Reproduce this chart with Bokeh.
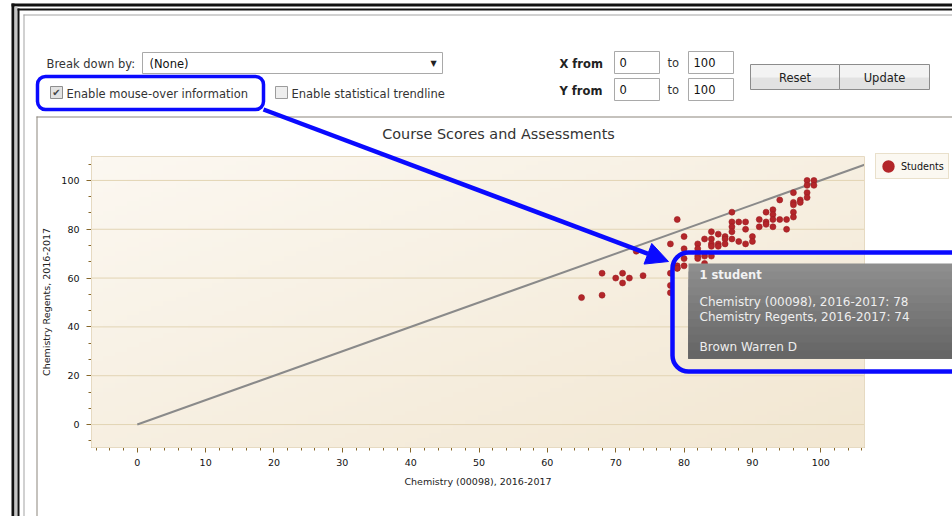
import numpy as np
from bokeh.plotting import figure
from bokeh.models import (Range1d, Label, BoxAnnotation, Arrow, NormalHead,
                          Legend, LegendItem, SingleIntervalTicker, LinearAxis)
from bokeh.embed import file_html
from bokeh.resources import INLINE

# ---------------- data ----------------
chart_title = "Course Scores and Assessments"
x_label = "Chemistry (00098), 2016-2017"
y_label = "Chemistry Regents, 2016-2017"
series_name = "Students"

chem_course = [65, 68, 68, 70, 71, 71, 72, 73, 74,
               78, 78, 78, 78, 79, 79, 79, 79, 80, 80, 80, 80,
               82, 82, 82, 82, 83, 83, 83, 84, 84, 84, 84, 84,
               85, 85, 85, 86, 86, 86, 87, 87, 87, 87, 87, 88, 88,
               89, 89, 89, 90, 90, 91, 91, 92, 92, 92, 93, 93, 93, 93,
               94, 94, 95, 95, 96, 96, 96, 96, 96, 97, 97, 98, 98, 98, 98, 99, 99]
chem_regents = [52, 53, 62, 60, 62, 58, 60, 71, 61,
                74, 62, 57, 54, 84, 65, 64, 64, 77, 72, 68, 65,
                74, 72, 69, 68, 76, 69, 66, 79, 76, 74, 73, 69,
                78, 74, 73, 77, 76, 74, 87, 83, 81, 79, 76, 83, 75,
                83, 80, 74, 77, 75, 84, 81, 87, 83, 82, 88, 86, 84, 81,
                92, 84, 84, 80, 95, 91, 90, 87, 85, 92, 91, 100, 98, 95, 93, 100, 98]

y_grid_values = [0, 20, 40, 60, 80, 100]

hover_name = "Brown Warren D"
hover_course = 78
hover_regents = 74

breakdown_value = "(None)"
x_from, x_to = "0", "100"
y_from, y_to = "0", "100"

CH = (-6.7, 106.4)    # visible x extent of the chart area
CV = (-9.4, 109.8)    # visible y extent of the chart area

# ---------------- layout ----------------
W, H = 952, 516
OFF = 0
PX = (91, 864)        # chart area, page pixels
PY = (156, 447)
KX = (PX[1] - PX[0]) / (CH[1] - CH[0])
KY = (PY[1] - PY[0]) / (CV[1] - CV[0])
x_rng = Range1d(CH[0] - (PX[0] - OFF) / KX, CH[1] + (OFF + W - PX[1]) / KX)
y_rng = Range1d(CV[0] - (OFF + H - PY[1]) / KY, CV[1] + (PY[0] - OFF) / KY)

p = figure(width=W, height=H, output_backend="svg", toolbar_location=None,
           title=None, x_range=x_rng, y_range=y_rng,
           x_axis_location=None, y_axis_location=None,
           min_border=0, min_border_left=0, min_border_right=0,
           min_border_top=0, min_border_bottom=0,
           background_fill_color="white", border_fill_color="white",
           outline_line_color=None)
p.grid.visible = False


def sx(px):
    return px - OFF


def sy(py):
    return OFF + H - py


def text(px, py, s, size="11.5px", align="left", bold=False, color="#333333",
         font="DejaVu Sans"):
    p.add_layout(Label(x=sx(px), y=sy(py), x_units="screen", y_units="screen",
                       text=s, text_font=font, text_font_size=size,
                       text_align=align, text_baseline="middle",
                       text_color=color,
                       text_font_style="bold" if bold else "normal"))


def box(x0, y0, x1, y1, fill=None, line=None, lw=1, radius=0):
    p.add_layout(BoxAnnotation(left=sx(x0), right=sx(x1), top=sy(y0), bottom=sy(y1),
                               left_units="screen", right_units="screen",
                               top_units="screen", bottom_units="screen",
                               fill_color=fill, fill_alpha=1.0 if fill else 0.0,
                               line_color=line, line_width=lw,
                               line_alpha=1.0 if line else 0.0,
                               border_radius=radius))


# background gradient of the chart area
n = 64
jj, ii = np.meshgrid(np.arange(n), np.arange(n))
t = (jj + (n - 1 - ii)) / (2.0 * (n - 1))
light = np.array([252, 248, 241])
dark = np.array([242, 231, 210])
img = np.zeros((n, n), dtype=np.uint32)
view = img.view(dtype=np.uint8).reshape((n, n, 4))
for k in range(3):
    view[:, :, k] = (light[k] + t * (dark[k] - light[k])).astype(np.uint8)
view[:, :, 3] = 255
p.image_rgba(image=[img], x=CH[0], y=CV[0], dw=CH[1] - CH[0], dh=CV[1] - CV[0])

# horizontal grid lines at the major y ticks
p.segment(x0=[CH[0]] * len(y_grid_values), x1=[CH[1]] * len(y_grid_values),
          y0=y_grid_values, y1=y_grid_values, line_color="#E2D4B4", line_width=1)

# chart area outline (top / right)
box(PX[0], PY[0], PX[1], PY[1], line="#E6DAC2")

# axes placed at the chart-area edges
xt = SingleIntervalTicker(interval=10, num_minor_ticks=5)
yt = SingleIntervalTicker(interval=20, num_minor_ticks=3)
xaxis = LinearAxis(ticker=xt, fixed_location=CV[0], bounds=CH, axis_label=x_label)
yaxis = LinearAxis(ticker=yt, fixed_location=CH[0], bounds=CV, axis_label=y_label)
p.add_layout(xaxis, "below")
p.add_layout(yaxis, "left")
for ax in (xaxis, yaxis):
    ax.axis_line_color = "#86672A"
    ax.major_tick_line_color = "#86672A"
    ax.minor_tick_line_color = "#86672A"
    ax.major_tick_in = 0
    ax.major_tick_out = 5
    ax.minor_tick_in = 0
    ax.minor_tick_out = 3
    ax.major_label_text_font = "DejaVu Sans"
    ax.major_label_text_font_size = "9.5px"
    ax.major_label_text_color = "#111111"
    ax.axis_label_text_font = "DejaVu Sans"
    ax.axis_label_text_font_size = "9.5px"
    ax.axis_label_text_font_style = "normal"
    ax.axis_label_text_color = "#222222"
xaxis.major_label_standoff = 6
xaxis.axis_label_standoff = 7
yaxis.major_label_standoff = 7
yaxis.axis_label_standoff = 6

# diagonal reference line (y = x)
p.line(x=[0, CH[1]], y=[0, CH[1]], line_color="#8A8A8A", line_width=2)

# scatter
red = "#B3262A"
p.scatter(x=chem_course, y=chem_regents, size=6, fill_color=red,
          line_color="#9C1D21", line_width=0.6)

# legend (proxy renderer whose single point is NaN, so it draws nothing in the plot)
r_leg = p.scatter(x=[np.nan], y=[np.nan], size=6, fill_color=red,
                  line_color=red, line_width=6)
legend = Legend(items=[LegendItem(label=series_name, renderers=[r_leg])],
                location=(sx(875), sy(179)),
                border_line_color="#D8C8A6", background_fill_color="#FBF8F1",
                background_fill_alpha=1.0, padding=4, margin=0, spacing=0,
                glyph_width=16, glyph_height=16, label_standoff=5,
                label_height=14, label_text_font="DejaVu Sans",
                label_text_font_size="9.6px", label_text_color="#111111")
p.add_layout(legend)

# ---------------- page decorations ----------------
box(11, 3, 1000, 6, fill="#111111")
box(11, 3, 14, 700, fill="#111111")
box(14, 6, 17, 700, fill="#C4C4C4")
box(17, 8, 19, 700, fill="#111111")
box(17, 8, 1000, 10, fill="#111111")
box(23, 14, 24, 700, fill="#A4A4A4")
box(23, 14, 1000, 15, fill="#A4A4A4")
# chart panel
box(36, 116, 1000, 117, fill="#8C857C")
box(36, 116, 37, 700, fill="#8C857C")

# title
text(498, 133, chart_title, size="14.4px", align="center", color="#333333")

# controls
text(46, 63, "Break down by:")
box(142, 52, 442, 73, fill="white", line="#A9A9A9")
text(149, 63, breakdown_value, color="#111111")
text(433, 63, "\u25BC", size="8px", align="center", color="#222222")

box(50, 86, 62, 98, fill="#E2E2E2", line="#8E8E8E")
text(56, 92, "\u2714", size="10px", align="center", color="#444444")
text(66, 93, "Enable mouse-over information")
box(275, 86, 287, 98, fill="#EEEEEE", line="#9C9C9C")
text(291, 93, "Enable statistical trendline")

text(559, 63, "X from", bold=True, color="#222222")
text(559, 90, "Y from", bold=True, color="#222222")
for yy0, yy1, a, b in ((51, 73, x_from, x_to), (78, 100, y_from, y_to)):
    box(614, yy0, 659, yy1, fill="white", line="#A9A9A9")
    box(688, yy0, 733, yy1, fill="white", line="#A9A9A9")
    text(619, (yy0 + yy1) / 2, a, color="#111111")
    text(693, (yy0 + yy1) / 2, b, color="#111111")
    text(667, (yy0 + yy1) / 2, "to", color="#333333")

for bx0, bx1, lab in ((750, 839, "Reset"), (839, 929, "Update")):
    box(bx0, 64, bx1, 89, fill="#E2E2E2")
    box(bx0, 64, bx1, 77, fill="#F3F3F3")
    box(bx0, 64, bx1, 89, line="#8C8C8C")
    text((bx0 + bx1) / 2, 77, lab, align="center", color="#222222")

# ---------------- tooltip ----------------
tt_x0, tt_y0, tt_x1, tt_y1 = 688, 263, 1000, 358
bands = 12
for i in range(bands):
    a0 = tt_y0 + (tt_y1 - tt_y0) * i / bands
    c = int(142 - (142 - 102) * i / (bands - 1))
    box(tt_x0, a0, tt_x1, tt_y1, fill="#%02x%02x%02x" % (c, c, c))
text(699, 274, "1 student", size="11.5px", bold=True, color="#F2F2F2")
text(699, 301, "%s: %d" % (x_label, hover_course), size="12px", color="#EEEEEE")
text(699, 316, "%s: %d" % (y_label, hover_regents), size="12px", color="#EEEEEE")
text(699, 346, hover_name, size="12px", color="#EEEEEE")

# ---------------- blue call-outs ----------------
blue = "#0A0AFF"
box(37, 76, 263, 109, line=blue, lw=3.5, radius=8)
box(672, 252, 1000, 371, line=blue, lw=4.5, radius=16)
p.add_layout(Arrow(x_start=sx(263), y_start=sy(109), x_end=sx(668), y_end=sy(261),
                   start_units="screen", end_units="screen",
                   line_color=blue, line_width=4.5,
                   end=NormalHead(size=22, fill_color=blue, line_color=blue)))

open("out.html", "w").write(file_html(p, INLINE))
